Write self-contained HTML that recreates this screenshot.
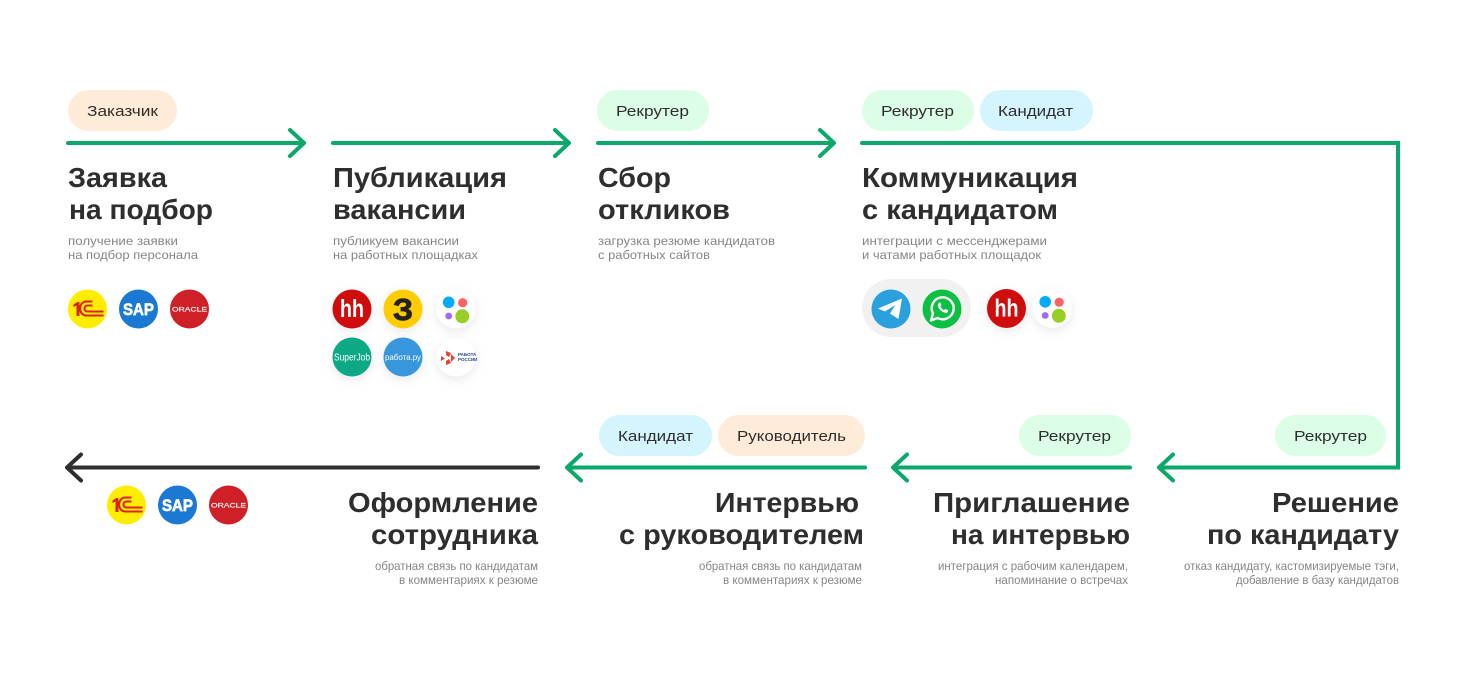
<!DOCTYPE html>
<html lang="ru"><head><meta charset="utf-8"><title>Процесс подбора</title>
<style>
html,body{margin:0;padding:0;background:#fff;width:1467px;height:677px;overflow:hidden}
svg{display:block}
text{font-family:"Liberation Sans","DejaVu Sans",sans-serif}
.t{font-size:28px;font-weight:700;fill:#2e2e2e;stroke:none}
.s{font-size:12px;fill:#858585;stroke:none}
.p{font-size:15px;fill:#2e2e2e;stroke:none}
.g{fill:none;stroke:#0aa86b;stroke-width:4px;stroke-linecap:round;stroke-linejoin:round}
.k{fill:none;stroke:#2e2e2e;stroke-width:4px;stroke-linecap:round;stroke-linejoin:round}
.i{font-weight:700;fill:#fff;text-anchor:middle;stroke:none}
.b{stroke:#fff;stroke-width:.7px}
.o{font-weight:400;stroke:#fff;stroke-width:.15px}
.r{fill:none;stroke:#d8231f;stroke-width:2px}
</style></head><body>
<svg width="1467" height="677" viewBox="0 0 1467 677" xmlns="http://www.w3.org/2000/svg">
<defs><filter id="sh" x="-50%" y="-50%" width="200%" height="200%"><feDropShadow dx="0" dy="3" stdDeviation="5" flood-color="#000" flood-opacity=".09"/></filter></defs>
<rect width="1467" height="677" fill="#fff"/>

<!-- pills -->
<rect x="68" y="90" width="109" height="41" rx="20.5" fill="#ffecd8"/>
<rect x="597" y="90" width="112" height="41" rx="20.5" fill="#dcfde6"/>
<rect x="862" y="90" width="112" height="41" rx="20.5" fill="#dcfde6"/>
<rect x="980" y="90" width="113" height="41" rx="20.5" fill="#d4f4fe"/>
<rect x="599" y="415" width="113" height="41" rx="20.5" fill="#d4f4fe"/>
<rect x="718" y="415" width="147" height="41" rx="20.5" fill="#ffecd8"/>
<rect x="1019" y="415" width="112" height="41" rx="20.5" fill="#dcfde6"/>
<rect x="1275" y="415" width="111" height="41" rx="20.5" fill="#dcfde6"/>
<text class="p" x="87" y="116" textLength="71" lengthAdjust="spacingAndGlyphs">Заказчик</text>
<text class="p" x="616" y="116" textLength="73" lengthAdjust="spacingAndGlyphs">Рекрутер</text>
<text class="p" x="881" y="116" textLength="73" lengthAdjust="spacingAndGlyphs">Рекрутер</text>
<text class="p" x="998" y="116" textLength="75" lengthAdjust="spacingAndGlyphs">Кандидат</text>
<text class="p" x="618" y="441" textLength="75" lengthAdjust="spacingAndGlyphs">Кандидат</text>
<text class="p" x="737" y="441" textLength="109" lengthAdjust="spacingAndGlyphs">Руководитель</text>
<text class="p" x="1038" y="441" textLength="73" lengthAdjust="spacingAndGlyphs">Рекрутер</text>
<text class="p" x="1294" y="441" textLength="73" lengthAdjust="spacingAndGlyphs">Рекрутер</text>

<!-- arrows -->
<path class="g" d="M68 143H303M290 130L304 143L290 156"/>
<path class="g" d="M333 143H568M555 130L569 143L555 156"/>
<path class="g" d="M598 143H833M820 130L834 143L820 156"/>
<path class="g" style="stroke-linejoin:miter" d="M862 143H1398V467.500H1160"/>
<path class="g" d="M1173 454.500L1159 467.500L1173 480.500"/>
<path class="g" d="M1130 467.500H894M907 454.500L893 467.500L907 480.500"/>
<path class="g" d="M865 467.500H568M581 454.500L567 467.500L581 480.500"/>
<path class="k" d="M538 467.500H68M81 454.500L67 467.500L81 480.500"/>

<!-- titles -->
<text class="t" x="68" y="187" textLength="99" lengthAdjust="spacingAndGlyphs">Заявка</text>
<text class="t" x="69" y="219" textLength="144" lengthAdjust="spacingAndGlyphs">на подбор</text>
<text class="t" x="333" y="187" textLength="174" lengthAdjust="spacingAndGlyphs">Публикация</text>
<text class="t" x="333" y="219" textLength="133" lengthAdjust="spacingAndGlyphs">вакансии</text>
<text class="t" x="598" y="187" textLength="73" lengthAdjust="spacingAndGlyphs">Сбор</text>
<text class="t" x="598" y="219" textLength="132" lengthAdjust="spacingAndGlyphs">откликов</text>
<text class="t" x="862" y="187" textLength="216" lengthAdjust="spacingAndGlyphs">Коммуникация</text>
<text class="t" x="862" y="219" textLength="196" lengthAdjust="spacingAndGlyphs">с кандидатом</text>
<text class="t" x="348" y="512" textLength="190" lengthAdjust="spacingAndGlyphs">Оформление</text>
<text class="t" x="371" y="544" textLength="167" lengthAdjust="spacingAndGlyphs">сотрудника</text>
<text class="t" x="715" y="512" textLength="144" lengthAdjust="spacingAndGlyphs">Интервью</text>
<text class="t" x="619" y="544" textLength="245" lengthAdjust="spacingAndGlyphs">с руководителем</text>
<text class="t" x="933" y="512" textLength="197" lengthAdjust="spacingAndGlyphs">Приглашение</text>
<text class="t" x="951" y="544" textLength="179" lengthAdjust="spacingAndGlyphs">на интервью</text>
<text class="t" x="1272" y="512" textLength="127" lengthAdjust="spacingAndGlyphs">Решение</text>
<text class="t" x="1207" y="544" textLength="192" lengthAdjust="spacingAndGlyphs">по кандидату</text>

<!-- subtitles -->
<text class="s" x="68" y="245" textLength="110" lengthAdjust="spacingAndGlyphs">получение заявки</text>
<text class="s" x="68" y="259" textLength="130" lengthAdjust="spacingAndGlyphs">на подбор персонала</text>
<text class="s" x="333" y="245" textLength="126" lengthAdjust="spacingAndGlyphs">публикуем вакансии</text>
<text class="s" x="333" y="259" textLength="145" lengthAdjust="spacingAndGlyphs">на работных площадках</text>
<text class="s" x="598" y="245" textLength="177" lengthAdjust="spacingAndGlyphs">загрузка резюме кандидатов</text>
<text class="s" x="598" y="259" textLength="112" lengthAdjust="spacingAndGlyphs">с работных сайтов</text>
<text class="s" x="862" y="245" textLength="185" lengthAdjust="spacingAndGlyphs">интеграции с мессенджерами</text>
<text class="s" x="862" y="259" textLength="179" lengthAdjust="spacingAndGlyphs">и чатами работных площадок</text>
<text class="s" x="375" y="570" textLength="163" lengthAdjust="spacingAndGlyphs">обратная связь по кандидатам</text>
<text class="s" x="399" y="584" textLength="139" lengthAdjust="spacingAndGlyphs">в комментариях к резюме</text>
<text class="s" x="699" y="570" textLength="163" lengthAdjust="spacingAndGlyphs">обратная связь по кандидатам</text>
<text class="s" x="723" y="584" textLength="139" lengthAdjust="spacingAndGlyphs">в комментариях к резюме</text>
<text class="s" x="938" y="570" textLength="190" lengthAdjust="spacingAndGlyphs">интеграция с рабочим календарем,</text>
<text class="s" x="995" y="584" textLength="133" lengthAdjust="spacingAndGlyphs">напоминание о встречах</text>
<text class="s" x="1184" y="570" textLength="215" lengthAdjust="spacingAndGlyphs">отказ кандидату, кастомизируемые тэги,</text>
<text class="s" x="1236" y="584" textLength="163" lengthAdjust="spacingAndGlyphs">добавление в базу кандидатов</text>

<!-- 1C SAP Oracle, top -->
<g transform="translate(87.5,309)">
<circle r="19.500" fill="#ffed00"/>
<path d="M-14-4.500L-10-7H-8V7H-11V-3.500L-14-2z" fill="#d8231f"/>
<path class="r" d="M16 6.500H-1C-9.500 6.500-9.500-7.500-1-7.500H5"/>
<path class="r" d="M16 2.500H0C-4 2.500-4-3.500 0-3.500H5"/>
</g>
<g transform="translate(138.5,309)"><circle r="19.500" fill="#1b78d3"/><text class="i b" y="6" font-size="17" textLength="31" lengthAdjust="spacingAndGlyphs">SAP</text></g>
<g transform="translate(189.5,309)"><circle r="19.500" fill="#cf2027"/><text class="i o" y="2.300" font-size="6.500" textLength="35" lengthAdjust="spacingAndGlyphs">ORACLE</text></g>

<!-- job boards -->
<g transform="translate(352,309)" filter="url(#sh)"><circle r="19.500" fill="#d0090f"/><text class="i" y="8" font-size="25" textLength="24" lengthAdjust="spacingAndGlyphs">hh</text></g>
<g transform="translate(403,309)" filter="url(#sh)"><circle r="19.500" fill="#ffcc00"/><text class="i" y="11" font-size="31" style="fill:#222;stroke:#222;stroke-width:.9px" textLength="20" lengthAdjust="spacingAndGlyphs">З</text></g>
<g transform="translate(456,309)" filter="url(#sh)"><circle r="19.500" fill="#fff"/><circle cx="-7.300" cy="-6.700" r="5.800" fill="#00aaff"/><circle cx="6.700" cy="-6.300" r="4.600" fill="#ff6163"/><circle cx="-7.300" cy="7" r="3.400" fill="#a169f7"/><circle cx="6.300" cy="7.300" r="7" fill="#97cf26"/></g>
<g transform="translate(352,357)" filter="url(#sh)"><circle r="19.500" fill="#08a987"/><text class="i" y="3.500" font-size="10" style="font-weight:400" textLength="36" lengthAdjust="spacingAndGlyphs">SuperJob</text></g>
<g transform="translate(403,357)" filter="url(#sh)"><circle r="19.500" fill="#3796dc"/><text class="i" y="3" font-size="8.500" style="font-weight:400" textLength="36" lengthAdjust="spacingAndGlyphs">работа.ру</text></g>
<g transform="translate(456,357)" filter="url(#sh)"><circle r="19.500" fill="#fff"/><path d="M-15-1l4 2.500-4 2.500zM-10-6l5 2-2 4-3-2zM-10 8l5-2-2-4-3 2zM-5-3l4 4-4 4z" fill="#e8412e"/><text x="2" y="-1" font-size="4.500" font-weight="700" fill="#27408b">РАБОТА</text><text x="2" y="4" font-size="4.500" font-weight="700" fill="#27408b">РОССИИ</text></g>

<!-- messengers -->
<rect x="862" y="279" width="109" height="58" rx="29" fill="#f1f1f1"/>
<g transform="translate(891,309)"><circle r="19.500" fill="#2aa1dd"/><path d="M-13-.500L11-10.500 7.500 10 -1 4.500 4.500-4-6 2.500z" fill="#fff"/></g>
<g transform="translate(942,309)"><circle r="19.500" fill="#0dbf42"/><path d="M-11 11.500l2-7a11 11 0 1 1 4.500 4.500z" fill="none" stroke="#fff" stroke-width="2.400" stroke-linejoin="round"/><path d="M-4-5c-1 4 4 9 9 9l1.500-2.500-3-1.500-1.500 1c-1.500-.500-3-2-3.500-3.500l1-1.500-1.500-3z" fill="#fff"/></g>
<g transform="translate(1006.500,308.500)" filter="url(#sh)"><circle r="19.500" fill="#d0090f"/><text class="i" y="8" font-size="25" textLength="24" lengthAdjust="spacingAndGlyphs">hh</text></g>
<g transform="translate(1052.500,308.500)" filter="url(#sh)"><circle r="19.500" fill="#fff"/><circle cx="-7.300" cy="-6.700" r="5.800" fill="#00aaff"/><circle cx="6.700" cy="-6.300" r="4.600" fill="#ff6163"/><circle cx="-7.300" cy="7" r="3.400" fill="#a169f7"/><circle cx="6.300" cy="7.300" r="7" fill="#97cf26"/></g>

<!-- 1C SAP Oracle, bottom -->
<g transform="translate(126.5,505)">
<circle r="19.500" fill="#ffed00"/>
<path d="M-14-4.500L-10-7H-8V7H-11V-3.500L-14-2z" fill="#d8231f"/>
<path class="r" d="M16 6.500H-1C-9.500 6.500-9.500-7.500-1-7.500H5"/>
<path class="r" d="M16 2.500H0C-4 2.500-4-3.500 0-3.500H5"/>
</g>
<g transform="translate(177.5,505)"><circle r="19.500" fill="#1b78d3"/><text class="i b" y="6" font-size="17" textLength="31" lengthAdjust="spacingAndGlyphs">SAP</text></g>
<g transform="translate(228.5,505)"><circle r="19.500" fill="#cf2027"/><text class="i o" y="2.300" font-size="6.500" textLength="35" lengthAdjust="spacingAndGlyphs">ORACLE</text></g>
</svg>
</body></html>
